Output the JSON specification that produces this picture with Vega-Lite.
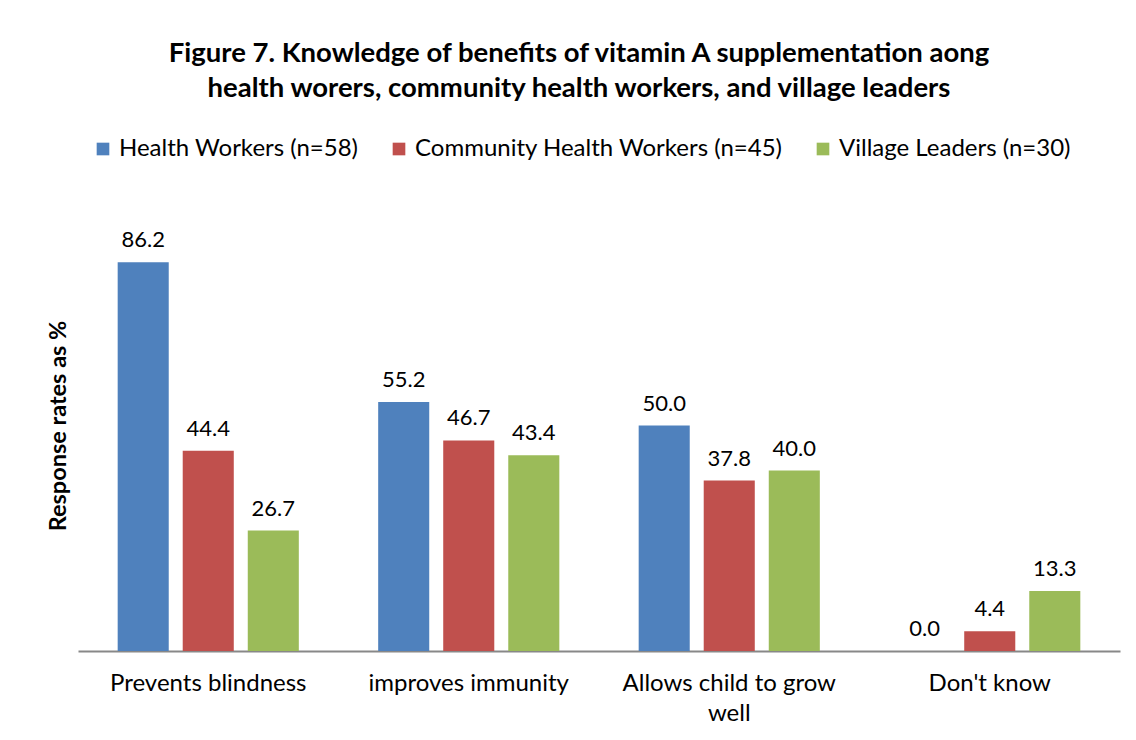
{
  "$schema": "https://vega.github.io/schema/vega-lite/v6.json",
  "width": 1042,
  "height": 451,
  "autosize": {"type": "none"},
  "padding": {"left": 78, "top": 200, "right": 16, "bottom": 89},
  "background": "white",
  "title": {
    "text": ["Figure 7. Knowledge of benefits of vitamin A supplementation aong", "health worers, community health workers, and village leaders"],
    "font": "Lato",
    "fontSize": 27.5,
    "fontWeight": "bold",
    "lineHeight": 35,
    "anchor": "middle",
    "frame": "group",
    "dx": -20,
    "offset": 35,
    "color": "#000000"
  },
  "data": {
    "values": [
      {"benefit": "Prevents blindness", "group": "Health Workers (n=58)", "value": 86.2},
      {"benefit": "Prevents blindness", "group": "Community Health Workers (n=45)", "value": 44.4},
      {"benefit": "Prevents blindness", "group": "Village Leaders (n=30)", "value": 26.7},
      {"benefit": "improves immunity", "group": "Health Workers (n=58)", "value": 55.2},
      {"benefit": "improves immunity", "group": "Community Health Workers (n=45)", "value": 46.7},
      {"benefit": "improves immunity", "group": "Village Leaders (n=30)", "value": 43.4},
      {"benefit": "Allows child to grow well", "group": "Health Workers (n=58)", "value": 50.0},
      {"benefit": "Allows child to grow well", "group": "Community Health Workers (n=45)", "value": 37.8},
      {"benefit": "Allows child to grow well", "group": "Village Leaders (n=30)", "value": 40.0},
      {"benefit": "Don't know", "group": "Health Workers (n=58)", "value": 0.0},
      {"benefit": "Don't know", "group": "Community Health Workers (n=45)", "value": 4.4},
      {"benefit": "Don't know", "group": "Village Leaders (n=30)", "value": 13.3}
    ]
  },
  "encoding": {
    "x": {
      "field": "benefit",
      "type": "nominal",
      "sort": ["Prevents blindness", "improves immunity", "Allows child to grow well", "Don't know"],
      "scale": {"paddingInner": 0, "paddingOuter": 0},
      "axis": {
        "title": null,
        "labelAngle": 0,
        "labelFont": "Lato",
        "labelFontSize": 24,
        "labelColor": "#000000",
        "labelPadding": 20,
        "labelLineHeight": 30,
        "labelLimit": 0,
        "labelExpr": "datum.label == 'Allows child to grow well' ? ['Allows child to grow', 'well'] : datum.label",
        "ticks": false,
        "domain": true,
        "domainColor": "#888888",
        "domainWidth": 2,
        "grid": false
      }
    },
    "xOffset": {
      "field": "group",
      "type": "nominal",
      "sort": ["Health Workers (n=58)", "Community Health Workers (n=45)", "Village Leaders (n=30)"],
      "scale": {"paddingInner": 0.215, "paddingOuter": 0.61}
    },
    "y": {
      "field": "value",
      "type": "quantitative",
      "scale": {"domain": [0, 100], "nice": false},
      "axis": {
        "title": "Response rates as %",
        "titleFont": "Lato",
        "titleFontSize": 23.5,
        "titleFontWeight": "bold",
        "titleColor": "#000000",
        "titlePadding": 8,
        "labels": false,
        "ticks": false,
        "domain": false,
        "grid": false
      }
    }
  },
  "layer": [
    {
      "mark": {"type": "bar"},
      "encoding": {
        "color": {
          "field": "group",
          "type": "nominal",
          "sort": ["Health Workers (n=58)", "Community Health Workers (n=45)", "Village Leaders (n=30)"],
          "scale": {
            "domain": ["Health Workers (n=58)", "Community Health Workers (n=45)", "Village Leaders (n=30)"],
            "range": ["#4F81BD", "#C0504D", "#9BBB59"]
          },
          "legend": {
            "title": null,
            "orient": "none",
            "legendX": 13,
            "legendY": -63,
            "direction": "horizontal",
            "symbolType": "square",
            "symbolSize": 160,
            "symbolStrokeWidth": 0,
            "labelFont": "Lato",
            "labelFontSize": 24,
            "labelColor": "#000000",
            "labelLimit": 0,
            "columnPadding": 28,
            "labelOffset": 4
          }
        }
      }
    },
    {
      "mark": {"type": "text", "baseline": "alphabetic", "dy": -15, "font": "Lato", "fontSize": 22, "color": "#000000"},
      "encoding": {
        "text": {"field": "value", "type": "quantitative", "format": ".1f"}
      }
    }
  ],
  "config": {
    "view": {"stroke": null}
  }
}
